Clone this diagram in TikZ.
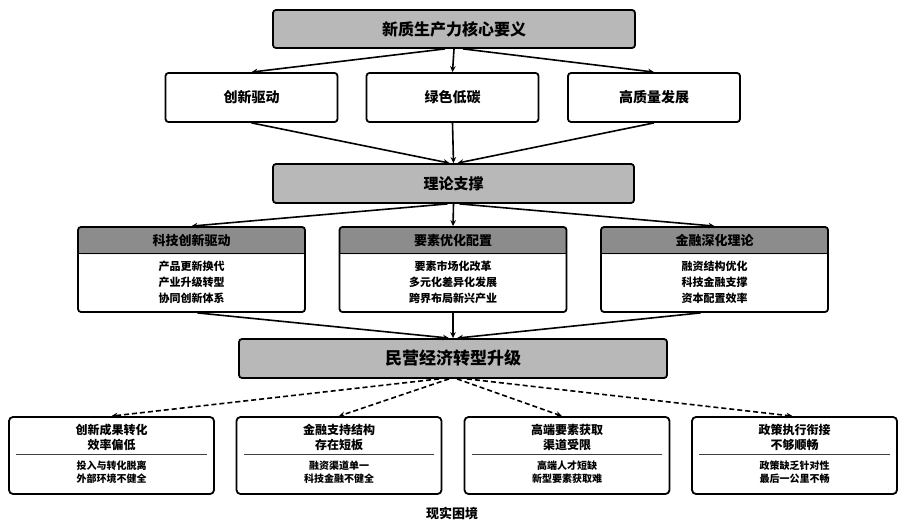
\documentclass[tikz,border=0pt]{standalone}
\usepackage{fontspec}
\setmainfont{Noto Sans CJK SC}
\usetikzlibrary{arrows.meta,positioning}
\definecolor{boxgray}{HTML}{B8B8B8}
\definecolor{headgray}{HTML}{8C8C8C}

\begin{document}
\begin{tikzpicture}[x=1pt,y=-1pt,
	mainbox/.style={draw=black, line width=1.8pt, rounded corners=3pt, fill=boxgray, inner sep=0pt, font=\bfseries\fontsize{16}{18}\selectfont},
	subbox/.style={draw=black, line width=1.8pt, rounded corners=3pt, fill=white, minimum width=172pt, minimum height=49pt, inner sep=0pt, font=\bfseries\fontsize{14}{16}\selectfont},
	secbox/.style={draw=black, line width=1.8pt, rounded corners=3pt, fill=white, minimum width=227pt, minimum height=85pt, inner sep=0pt,
		path picture={\fill[headgray] ([yshift=-27pt]path picture bounding box.north west) rectangle (path picture bounding box.north east);}},
	headtext/.style={inner sep=0pt, font=\bfseries\fontsize{13}{15}\selectfont},
	bodytext/.style={inner sep=0pt, align=center, font=\bfseries\fontsize{11}{16}\selectfont},
	probbox/.style={draw=black, line width=1.8pt, rounded corners=4pt, fill=white, minimum width=205pt, minimum height=77pt, inner sep=0pt},
	probtitle/.style={inner sep=0pt, align=center, font=\bfseries\fontsize{12}{15}\selectfont},
	probtext/.style={inner sep=0pt, align=center, font=\bfseries\fontsize{10}{13}\selectfont},
	divline/.style={line width=1.1pt, draw=black!75},
	arr/.style={-{Stealth[length=6pt,width=5.5pt]}, line width=1.6pt},
	darr/.style={-{Stealth[length=6pt,width=5.5pt]}, line width=1.6pt, dash pattern=on 5pt off 3pt}]
		\useasboundingbox (0,0) rectangle (904,521);

		% core meaning
		\node[mainbox, minimum width=362pt, minimum height=38pt] (core) at (454,29) {新质生产力核心要义};
		\node[subbox] (cx) at (251.5,97.5) {创新驱动};
		\node[subbox] (ls) at (452.5,97.5) {绿色低碳};
		\node[subbox] (gz) at (654,97.5) {高质量发展};
		\draw[arr] ([xshift=-9pt]core.south) -- (cx.north);
		\draw[arr] (core.south) -- (ls.north);
		\draw[arr] ([xshift=9pt]core.south) -- (gz.north);

		% theory
		\node[mainbox, minimum width=361pt, minimum height=39pt, font=\bfseries\fontsize{15}{17}\selectfont] (theory) at (453.5,183.5) {理论支撑};
		\draw[arr] (cx.south) -- ([xshift=-4pt]theory.north);
		\draw[arr] (ls.south) -- (theory.north);
		\draw[arr] (gz.south) -- ([xshift=4pt]theory.north);

		\node[secbox] (kj) at (191.5,269.5) {};
		\node[secbox] (ys) at (453,269.5) {};
		\node[secbox] (jr) at (714.5,269.5) {};
		\draw[line width=0.6pt] ([yshift=-27pt]kj.north west) -- ([yshift=-27pt]kj.north east);
		\draw[line width=0.6pt] ([yshift=-27pt]ys.north west) -- ([yshift=-27pt]ys.north east);
		\draw[line width=0.6pt] ([yshift=-27pt]jr.north west) -- ([yshift=-27pt]jr.north east);
		\node[headtext] (kjh) at (191.5,240.5) {科技创新驱动};
		\node[headtext] (ysh) at (453,240.5) {要素优化配置};
		\node[headtext] (jrh) at (714.5,240.5) {金融深化理论};
		\node[bodytext] (kjb) at (191.5,282) {产品更新换代\\产业升级转型\\协同创新体系};
		\node[bodytext] (ysb) at (453,282) {要素市场化改革\\多元化差异化发展\\跨界布局新兴产业};
		\node[bodytext] (jrb) at (714.5,282) {融资结构优化\\科技金融支撑\\资本配置效率};
		\draw[arr] ([xshift=-6pt]theory.south) -- (kj.north);
		\draw[arr] (theory.south) -- (ys.north);
		\draw[arr] ([xshift=6pt]theory.south) -- (jr.north);

		% upgrading
		\node[mainbox, minimum width=428pt, minimum height=39pt, font=\bfseries\fontsize{17}{19}\selectfont] (up) at (453,358.5) {民营经济转型升级};
		\draw[arr] ([xshift=6pt]kj.south) -- ([xshift=-4pt]up.north);
		\draw[arr] (ys.south) -- (up.north);
		\draw[arr] ([xshift=-14pt]jr.south) -- ([xshift=4pt]up.north);

		% dilemmas
		\node[probbox] (p1) at (111.5,455.5) {};
		\node[probbox] (p2) at (339,455.5) {};
		\node[probbox] (p3) at (567,455.5) {};
		\node[probbox] (p4) at (794.5,455.5) {};
		\node[probtitle] (p1t) at (111.5,437.5) {创新成果转化\\效率偏低};
		\node[probtitle] (p2t) at (339,437.5) {金融支持结构\\存在短板};
		\node[probtitle] (p3t) at (567,437.5) {高端要素获取\\渠道受限};
		\node[probtitle] (p4t) at (794.5,437.5) {政策执行衔接\\不够顺畅};
		\draw[divline] ([xshift=8pt,yshift=-38pt]p1.north west) -- ([xshift=-8pt,yshift=-38pt]p1.north east);
		\draw[divline] ([xshift=8pt,yshift=-38pt]p2.north west) -- ([xshift=-8pt,yshift=-38pt]p2.north east);
		\draw[divline] ([xshift=8pt,yshift=-38pt]p3.north west) -- ([xshift=-8pt,yshift=-38pt]p3.north east);
		\draw[divline] ([xshift=8pt,yshift=-38pt]p4.north west) -- ([xshift=-8pt,yshift=-38pt]p4.north east);
		\node[probtext] (p1b) at (111.5,472.5) {投入与转化脱离\\外部环境不健全};
		\node[probtext] (p2b) at (339,472.5) {融资渠道单一\\科技金融不健全};
		\node[probtext] (p3b) at (567,472.5) {高端人才短缺\\新型要素获取难};
		\node[probtext] (p4b) at (794.5,472.5) {政策缺乏针对性\\最后一公里不畅};
		\draw[darr] ([xshift=-14pt]up.south) -- (p1.north);
		\draw[darr] ([xshift=-4pt]up.south) -- (p2.north);
		\draw[darr] ([xshift=4pt]up.south) -- ([xshift=-5pt]p3.north);
		\draw[darr] ([xshift=14pt]up.south) -- ([xshift=-2pt]p4.north);

		\node[font=\bfseries\fontsize{13}{15}\selectfont] (real) at (452,513) {现实困境};
	\end{tikzpicture}
\end{document}
